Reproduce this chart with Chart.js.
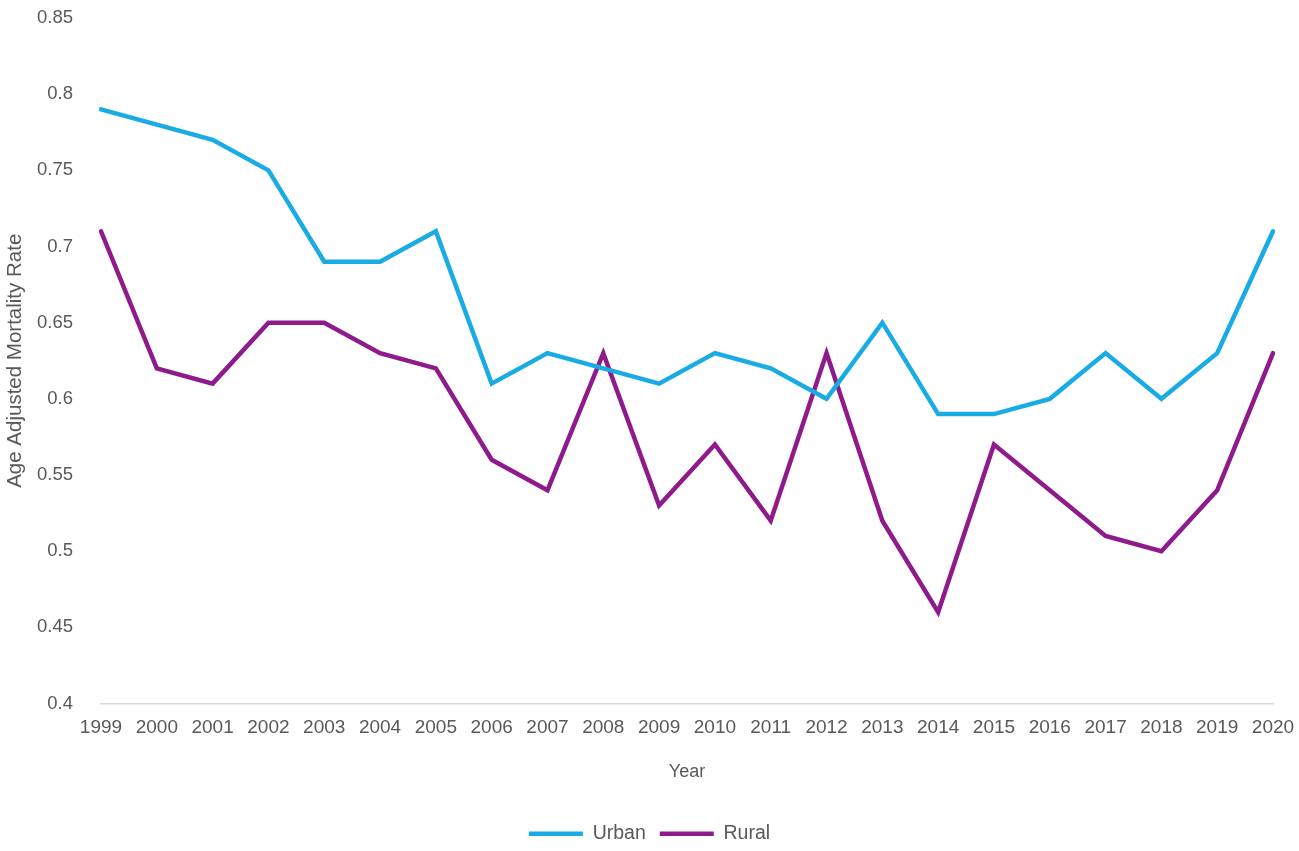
<!DOCTYPE html>
<html>
<head>
<meta charset="utf-8">
<script src="https://cdn.jsdelivr.net/npm/chart.js@4"></script>
<style>
  html, body { margin: 0; padding: 0; background: #fff; }
  #wrap { width: 1299px; height: 851px; }
</style>
</head>
<body>
<div id="wrap"><canvas id="chart"></canvas></div>
<script>
// Chart data
const years = ['1999', '2000', '2001', '2002', '2003', '2004', '2005', '2006', '2007', '2008', '2009',
               '2010', '2011', '2012', '2013', '2014', '2015', '2016', '2017', '2018', '2019', '2020'];
const urban = [0.79, 0.78, 0.77, 0.75, 0.69, 0.69, 0.71, 0.61, 0.63, 0.62, 0.61,
               0.63, 0.62, 0.60, 0.65, 0.59, 0.59, 0.60, 0.63, 0.60, 0.63, 0.71];
const rural = [0.71, 0.62, 0.61, 0.65, 0.65, 0.63, 0.62, 0.56, 0.54, 0.63, 0.53,
               0.57, 0.52, 0.63, 0.52, 0.46, 0.57, 0.54, 0.51, 0.50, 0.54, 0.63];
const yTicks = [0.4, 0.45, 0.5, 0.55, 0.6, 0.65, 0.7, 0.75, 0.8, 0.85];

const FONT = '"Liberation Sans", Arial, sans-serif';
const GREY = '#595959';

const ctx = document.getElementById('chart').getContext('2d');

new Chart(ctx, {
    type: 'line',
    data: {
        labels: years,
        datasets: [
            {
                label: 'Urban',
                data: urban,
                borderColor: '#19ACE4',
                backgroundColor: '#19ACE4',
                borderWidth: 4.5,
                borderCapStyle: 'round',
                borderJoinStyle: 'miter',
                pointRadius: 0,
                tension: 0
            },
            {
                label: 'Rural',
                data: rural,
                borderColor: '#8E1A8C',
                backgroundColor: '#8E1A8C',
                borderWidth: 4.5,
                borderCapStyle: 'round',
                borderJoinStyle: 'miter',
                pointRadius: 0,
                tension: 0
            }
        ]
    },
    options: {
        responsive: true,
        maintainAspectRatio: false,
        animation: false,
        layout: {
            padding: { top: 18, right: 0, bottom: -2.5, left: 0 }
        },
        plugins: {
            tooltip: { enabled: false },
            legend: {
                position: 'bottom',
                labels: {
                    font: { family: FONT, size: 19.5 },
                    color: GREY,
                    usePointStyle: true,
                    pointStyle: 'line',
                    pointStyleWidth: 54,
                    boxHeight: 4,
                    padding: 14
                }
            }
        },
        scales: {
            x: {
                offset: false,
                grid: { display: false, drawTicks: false },
                border: { display: true, color: '#D9D9D9', width: 1.5 },
                ticks: {
                    color: GREY,
                    font: { family: FONT, size: 19 },
                    padding: 12.5,
                    maxRotation: 0,
                    autoSkip: false
                },
                title: {
                    display: true,
                    text: 'Year',
                    color: GREY,
                    font: { family: FONT, size: 18 },
                    padding: { top: 0, bottom: 27.5 }
                },
                afterFit(scale) {
                    scale.height = 106.5;
                    scale.paddingRight = 26;
                    scale.paddingLeft = 0;
                }
            },
            y: {
                min: 0.4,
                max: 0.85,
                grid: { display: false, drawTicks: false },
                border: { display: false },
                afterBuildTicks(scale) { scale.ticks = yTicks.map(v => ({ value: v })); },
                ticks: {
                    color: GREY,
                    font: { family: FONT, size: 18.5 },
                    padding: 28,
                    callback: v => String(Math.round(v * 100) / 100)
                },
                title: {
                    display: true,
                    text: 'Age Adjusted Mortality Rate',
                    color: GREY,
                    font: { family: FONT, size: 20.5 },
                    padding: { top: 3, bottom: 0 }
                },
                afterFit(scale) {
                    scale.width = 101;
                    scale.paddingTop = 0;
                    scale.paddingBottom = 0;
                }
            }
        }
    }
});
</script>
</body>
</html>
